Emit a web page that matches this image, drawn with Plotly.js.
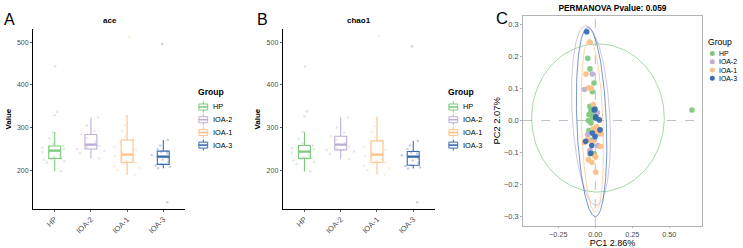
<!DOCTYPE html>
<html>
<head>
<meta charset="utf-8">
<script src="https://cdn.plot.ly/plotly-3.0.1.min.js"></script>
<style>
  html, body { margin: 0; padding: 0; background: #ffffff; }
  #chart { width: 743px; height: 248px; }
</style>
</head>
<body>
<div id="chart"></div>
<script>
// ---- groups ----
const groups = ['HP', 'IOA-2', 'IOA-1', 'IOA-3'];
const groupColors = ['#7FC97F', '#BEAED4', '#FDC086', '#386CB0'];

// ---- ace: box statistics per group ----
const aceLower  = [198, 228, 189, 205];
const aceQ1     = [228, 250, 219, 214];
const aceMedian = [246, 260, 237, 232];
const aceQ3     = [257, 284, 271, 245];
const aceUpper  = [290, 324, 328, 271];
// ace: sample values
const aceHP   = [198, 218, 222, 225, 226, 228, 232, 236, 240, 243, 246, 248, 250, 253, 255, 257, 262, 275, 290, 329, 337, 444];
const aceIOA2 = [228, 240, 246, 250, 254, 257, 260, 265, 275, 284, 292, 305, 324];
const aceIOA1 = [189, 200, 206, 210, 215, 219, 222, 226, 230, 234, 237, 242, 248, 255, 263, 271, 280, 292, 305, 328, 512];
const aceIOA3 = [125, 205, 208, 211, 214, 220, 225, 229, 232, 236, 240, 243, 245, 250, 258, 271, 496];

// ---- chao1: box statistics per group ----
const chaoLower  = [197, 226, 190, 204];
const chaoQ1     = [228, 248, 219, 212];
const chaoMedian = [244, 260, 237, 232];
const chaoQ3     = [258, 280, 269, 244];
const chaoUpper  = [290, 324, 324, 269];
// chao1: sample values
const chaoHP   = [197, 215, 220, 223, 226, 228, 231, 234, 238, 241, 244, 246, 249, 252, 255, 258, 263, 274, 290, 326, 338, 443];
const chaoIOA2 = [226, 238, 244, 248, 252, 256, 260, 264, 272, 280, 288, 300, 324];
const chaoIOA1 = [190, 200, 205, 210, 214, 219, 222, 226, 230, 234, 237, 241, 247, 254, 262, 269, 278, 290, 303, 324, 515];
const chaoIOA3 = [125, 204, 207, 210, 212, 218, 223, 228, 232, 235, 238, 241, 244, 250, 258, 269, 490];

// ---- PCoA coordinates ----
const pc1HP   = [-0.051, -0.036, -0.009, -0.020, -0.036, -0.029, -0.043, -0.024, -0.020, -0.047, -0.029, -0.014, -0.029, -0.007, -0.043, -0.036, 0.653];
const pc2HP   = [0.194, 0.161, 0.117, 0.090, 0.044, 0.031, 0.019, 0.036, 0.008, 0.000, -0.008, 0.016, -0.062, -0.104, -0.031, -0.104, 0.033];
const pc1IOA2 = [-0.020, -0.074, 0.009, -0.051, 0.020, -0.036, -0.007, 0.014, 0.016];
const pc2IOA2 = [0.145, 0.097, 0.021, -0.044, -0.041, -0.093, -0.060, 0.025, -0.078];
const pc1IOA1 = [-0.036, -0.063, -0.047, -0.029, -0.014, -0.014, 0.039, 0.009, -0.051, 0.036, -0.020, -0.047, -0.007, 0.003, -0.024, 0.003, 0.009, -0.074];
const pc2IOA1 = [0.244, 0.145, 0.102, 0.101, 0.050, -0.026, -0.041, -0.034, -0.060, -0.081, -0.068, -0.122, -0.109, -0.114, -0.130, -0.161, -0.019, -0.068];
const pc1IOA3 = [-0.058, -0.007, 0.003, -0.002, 0.003, 0.027, 0.032, -0.020, -0.065, -0.024, -0.031, -0.002];
const pc2IOA3 = [0.277, 0.033, 0.008, 0.036, 0.012, 0.002, -0.029, -0.039, -0.065, -0.078, -0.102, -0.050];

// 95% confidence ellipses per group: centre, half-widths, and horizontal lean of the top point
const ellCx    = [0.018, -0.029, -0.020, -0.025];
const ellCy    = [0.008, 0.016, -0.016, -0.005];
const ellRx    = [0.448, 0.127, 0.073, 0.100];
const ellRy    = [0.231, 0.280, 0.270, 0.295];
const ellShear = [0.000, -0.034, -0.020, -0.025];

// ---------------------------------------------------------------
const W = 743, H = 248;
const FONT = 'Liberation Sans, Arial, Helvetica, sans-serif';
const px = v => v / W;           // pixel x -> paper
const py = v => 1 - v / H;       // pixel y (from top) -> paper
const rgba = (hex, a) => {
  const n = parseInt(hex.slice(1), 16);
  return `rgba(${(n >> 16) & 255},${(n >> 8) & 255},${n & 255},${a})`;
};

const traces = [];
const aceSamples  = [aceHP, aceIOA2, aceIOA1, aceIOA3];
const chaoSamples = [chaoHP, chaoIOA2, chaoIOA1, chaoIOA3];

function addBoxPanel(xa, ya, samples, lower, q1, med, q3, upper) {
  groups.forEach((g, i) => {
    // jittered samples
    traces.push({
      type: 'box', xaxis: xa, yaxis: ya,
      x: samples[i].map(() => g), y: samples[i],
      boxpoints: 'all', jitter: 1, pointpos: 0, width: 0.95,
      fillcolor: 'rgba(0,0,0,0)', line: { width: 0, color: 'rgba(0,0,0,0)' },
      marker: { size: 2.6, color: rgba(groupColors[i], 0.3) },
      showlegend: false, hoverinfo: 'y'
    });
    // box and whiskers
    traces.push({
      type: 'box', xaxis: xa, yaxis: ya,
      x: [g], q1: [q1[i]], median: [med[i]], q3: [q3[i]],
      lowerfence: [lower[i]], upperfence: [upper[i]],
      boxpoints: false, width: 0.33, whiskerwidth: 0,
      fillcolor: 'rgba(255,255,255,0)',
      line: { color: groupColors[i], width: 1.1 },
      showlegend: false, name: g
    });
  });
  // thicker median bars
  traces.push({
    type: 'scatter', mode: 'markers', xaxis: xa, yaxis: ya,
    x: groups, y: med,
    marker: { symbol: 'line-ew', size: 8.4, color: groupColors,
              line: { color: groupColors, width: 2.2 } },
    showlegend: false, hoverinfo: 'skip'
  });
}

addBoxPanel('x', 'y', aceSamples, aceLower, aceQ1, aceMedian, aceQ3, aceUpper);
addBoxPanel('x2', 'y2', chaoSamples, chaoLower, chaoQ1, chaoMedian, chaoQ3, chaoUpper);

// PCoA ellipses
groups.forEach((g, i) => {
  const ex = [], ey = [];
  for (let k = 0; k <= 160; k++) {
    const t = 2 * Math.PI * k / 160;
    ex.push(ellCx[i] + ellRx[i] * Math.cos(t) + ellShear[i] * Math.sin(t));
    ey.push(ellCy[i] + ellRy[i] * Math.sin(t));
  }
  traces.push({
    type: 'scatter', mode: 'lines', xaxis: 'x3', yaxis: 'y3',
    x: ex, y: ey, line: { color: groupColors[i], width: 0.7 },
    showlegend: false, hoverinfo: 'skip'
  });
});

// PCoA points
const pc1 = [pc1HP, pc1IOA2, pc1IOA1, pc1IOA3];
const pc2 = [pc2HP, pc2IOA2, pc2IOA1, pc2IOA3];
groups.forEach((g, i) => {
  traces.push({
    type: 'scatter', mode: 'markers', xaxis: 'x3', yaxis: 'y3',
    x: pc1[i], y: pc2[i], name: g,
    marker: { size: 5.6, color: groupColors[i], opacity: 0.95 },
    showlegend: false
  });
});

// ---- axes ----
const tickFontX = { family: FONT, size: 7.6, color: '#4d4d4d' };
const tickFontY = { family: FONT, size: 7, color: '#4d4d4d' };
const boxX = dom => ({
  domain: dom, type: 'category', categoryorder: 'array', categoryarray: groups,
  range: [-0.6, 3.6], showline: true, linecolor: '#000', linewidth: 1,
  ticks: 'outside', ticklen: 2, tickcolor: '#333', tickwidth: 0.8,
  tickangle: -45, tickfont: tickFontX, showgrid: false, zeroline: false, fixedrange: true
});
const boxY = () => ({
  domain: [py(209), py(29.3)], range: [109.4, 530.4],
  tickvals: [200, 300, 400, 500], showline: true, linecolor: '#000', linewidth: 1,
  ticks: 'outside', ticklen: 2, tickcolor: '#333', tickwidth: 0.8,
  tickfont: tickFontY, showgrid: false, zeroline: false, fixedrange: true,
  title: { text: 'Value', font: { family: FONT, size: 8, color: '#000', weight: 'bold' }, standoff: 4 }
});

const layout = {
  width: W, height: H,
  margin: { l: 0, r: 0, t: 0, b: 0 },
  paper_bgcolor: '#ffffff', plot_bgcolor: '#ffffff',
  showlegend: false,
  font: { family: FONT },
  title: {
    text: 'PERMANOVA Pvalue: 0.059',
    font: { family: FONT, size: 8.3, color: '#000', weight: 'bold' },
    x: px(612.5), y: py(7.8), xanchor: 'center', yanchor: 'middle',
    xref: 'paper', yref: 'container'
  },
  boxmode: 'overlay',
  xaxis: boxX([px(33), px(185)]),
  yaxis: Object.assign(boxY(), { anchor: 'x' }),
  xaxis2: Object.assign(boxX([px(282.7), px(435)]), { anchor: 'y2' }),
  yaxis2: Object.assign(boxY(), { anchor: 'x2' }),
  xaxis3: {
    domain: [px(523), px(702)], anchor: 'y3', range: [-0.4885, 0.721],
    tickvals: [-0.25, 0, 0.25, 0.5], tickformat: '.2f',
    showline: true, mirror: true, linecolor: '#a0a0a0', linewidth: 0.8,
    ticks: 'outside', ticklen: 1.5, tickcolor: '#a0a0a0', tickwidth: 0.8,
    tickfont: { family: FONT, size: 7.3, color: '#4d4d4d' },
    showgrid: false, zeroline: false, fixedrange: true,
    title: { text: 'PC1 2.86%', font: { family: FONT, size: 9, color: '#000' }, standoff: 4 }
  },
  yaxis3: {
    domain: [py(226), py(15.7)], anchor: 'x3', range: [-0.329, 0.327],
    tickvals: [-0.3, -0.2, -0.1, 0, 0.1, 0.2, 0.3], tickformat: '.1f',
    showline: true, mirror: true, linecolor: '#a0a0a0', linewidth: 0.8,
    ticks: 'outside', ticklen: 2, tickcolor: '#a0a0a0', tickwidth: 0.8,
    tickfont: { family: FONT, size: 7.5, color: '#4d4d4d' },
    showgrid: false, zeroline: false, fixedrange: true,
    title: { text: 'PC2 2.07%', font: { family: FONT, size: 9.4, color: '#000' }, standoff: 1 }
  },
  shapes: [
    { type: 'line', xref: 'x3', yref: 'y3 domain', x0: 0, x1: 0, y0: 0, y1: 1,
      line: { color: '#b0b0b0', width: 0.8, dash: 'dash' }, layer: 'below' },
    { type: 'line', xref: 'x3 domain', yref: 'y3', x0: 0, x1: 1, y0: 0, y1: 0,
      line: { color: '#b0b0b0', width: 0.8, dash: 'dash' }, layer: 'below' }
  ],
  annotations: []
};

const ann = (text, x, y, opts) => Object.assign({
  text, xref: 'paper', yref: 'paper', x: px(x), y: py(y),
  xanchor: 'center', yanchor: 'middle', showarrow: false, borderpad: 0,
  font: { family: FONT, size: 8, color: '#000' }
}, opts || {});

// panel letters and panel titles
layout.annotations.push(ann('A', 9.2, 19.5, { font: { family: FONT, size: 16, color: '#000' } }));
layout.annotations.push(ann('B', 262.3, 19.2, { font: { family: FONT, size: 16, color: '#000' } }));
layout.annotations.push(ann('C', 502.5, 18.5, { font: { family: FONT, size: 16.5, color: '#000' } }));
layout.annotations.push(ann('ace', 109.5, 20, { font: { family: FONT, size: 8, color: '#000', weight: 'bold' } }));
layout.annotations.push(ann('chao1', 358.5, 20, { font: { family: FONT, size: 8, color: '#000', weight: 'bold' } }));

// box-style group legends for panels A and B
function boxLegend(x0) {
  layout.annotations.push(ann('Group', x0, 92, { xanchor: 'left',
    font: { family: FONT, size: 8.6, color: '#000', weight: 'bold' } }));
  groups.forEach((g, i) => {
    const yc = 107 + i * 12.7;
    const kx0 = x0 + 2.2, kx1 = x0 + 11, kxm = (kx0 + kx1) / 2;
    const c = groupColors[i];
    layout.shapes.push({ type: 'rect', xref: 'paper', yref: 'paper',
      x0: px(kx0), x1: px(kx1), y0: py(yc - 3), y1: py(yc + 3),
      line: { color: c, width: 1 }, fillcolor: '#ffffff' });
    layout.shapes.push({ type: 'line', xref: 'paper', yref: 'paper',
      x0: px(kx0), x1: px(kx1), y0: py(yc), y1: py(yc), line: { color: c, width: 1.6 } });
    layout.shapes.push({ type: 'line', xref: 'paper', yref: 'paper',
      x0: px(kxm), x1: px(kxm), y0: py(yc - 3), y1: py(yc - 5.6), line: { color: c, width: 1 } });
    layout.shapes.push({ type: 'line', xref: 'paper', yref: 'paper',
      x0: px(kxm), x1: px(kxm), y0: py(yc + 3), y1: py(yc + 5.6), line: { color: c, width: 1 } });
    layout.annotations.push(ann(g, x0 + 15.4, yc, { xanchor: 'left',
      font: { family: FONT, size: 7.4, color: '#000' } }));
  });
}
boxLegend(196.7);
boxLegend(446.7);

// point legend for panel C
layout.annotations.push(ann('Group', 707.2, 42.2, { xanchor: 'left',
  font: { family: FONT, size: 8.6, color: '#000' } }));
groups.forEach((g, i) => {
  const yc = 53.6 + i * 8.2, xc = 712.3, r = 2.5;
  layout.shapes.push({ type: 'circle', xref: 'paper', yref: 'paper',
    x0: px(xc - r), x1: px(xc + r), y0: py(yc - r), y1: py(yc + r),
    line: { width: 0 }, fillcolor: groupColors[i] });
  layout.annotations.push(ann(g, 718.3, yc, { xanchor: 'left',
    font: { family: FONT, size: 6.9, color: '#000' } }));
});

Plotly.newPlot('chart', traces, layout, { staticPlot: true, displayModeBar: false });
</script>
</body>
</html>
